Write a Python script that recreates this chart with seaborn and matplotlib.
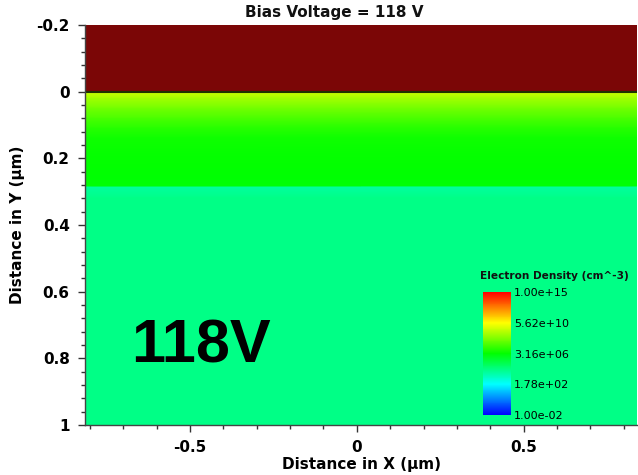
import numpy as np
import matplotlib
matplotlib.use("Agg")
import matplotlib.pyplot as plt
from matplotlib.colors import LinearSegmentedColormap, Normalize
from matplotlib.ticker import MultipleLocator, FixedLocator
import seaborn as sns

# ---- data ----
x_range_um = [-0.815, 0.84]
oxide_y_um = [-0.2, 0.0]                      # top material (no density shown)
depth_um = [0.00, 0.02, 0.05, 0.08, 0.11, 0.14, 0.18, 0.22, 0.26, 0.284, 0.287, 0.32, 1.00]
log10_density = [9.9, 9.2, 8.4, 7.7, 7.1, 6.7, 6.6, 6.5, 6.45, 6.4, 3.9, 4.25, 4.25]
cbar_log_ticks = [-2.0, 2.25, 6.5, 10.75, 15.0]
cbar_labels = ["1.00e-02", "1.78e+02", "3.16e+06", "5.62e+10", "1.00e+15"]
x_ticks = [-0.5, 0, 0.5]
y_ticks = [-0.2, 0, 0.2, 0.4, 0.6, 0.8, 1]
y_tick_labels = ["-0.2", "0", "0.2", "0.4", "0.6", "0.8", "1"]
bias_label = "118V"
title = "Bias Voltage = 118 V"

sns.set_theme(style="ticks")
plt.rcParams["font.family"] = ["DejaVu Sans"]
plt.rcParams["text.color"] = "black"
plt.rcParams["xtick.labelcolor"] = "black"
plt.rcParams["ytick.labelcolor"] = "black"
plt.rcParams["axes.labelcolor"] = "black"

cmap = LinearSegmentedColormap.from_list(
    "dens", ["#0000ff", "#00ffff", "#00ff00", "#ffff00", "#ff0000"])
norm = Normalize(cbar_log_ticks[0], cbar_log_ticks[-1])

fig = plt.figure(figsize=(6.38, 4.75), dpi=100)
ax = fig.add_axes([85/638, 1-425/475, 552/638, 400/475])

X, Y = np.meshgrid(np.array(x_range_um), np.array(depth_um))
Z = np.tile(np.array(log10_density)[:, None], (1, 2))
mesh = ax.pcolormesh(X, Y, Z, cmap=cmap, norm=norm, shading="gouraud")
ax.fill_between(x_range_um, oxide_y_um[0], oxide_y_um[1], color="#7b0606", lw=0)
ax.axhline(oxide_y_um[1], color="#1f3300", lw=1.5)

ax.set_xlim(x_range_um)
ax.set_ylim(1.0, -0.2)
ax.xaxis.set_major_locator(FixedLocator(x_ticks))
ax.xaxis.set_minor_locator(MultipleLocator(0.1))
ax.set_xticklabels(["-0.5", "0", "0.5"])
ax.yaxis.set_major_locator(FixedLocator(y_ticks))
ax.set_yticklabels(y_tick_labels)
ax.yaxis.set_minor_locator(MultipleLocator(0.04))
ax.tick_params(axis="both", which="major", length=5, width=1, color="#333333",
               labelsize=11, pad=6, direction="out")
ax.tick_params(axis="both", which="minor", length=3, width=1, color="#333333",
               direction="out")
for lab in ax.get_xticklabels() + ax.get_yticklabels():
    lab.set_fontweight("bold")
for s in ["top", "right"]:
    ax.spines[s].set_visible(False)
for s in ["left", "bottom"]:
    ax.spines[s].set_color("#444444")
    ax.spines[s].set_linewidth(1)
ax.set_xlabel("Distance in X (µm)", fontsize=11, fontweight="bold", labelpad=1)
ax.set_ylabel("Distance in Y (µm)", fontsize=11, fontweight="bold", labelpad=8)

ax.text(0.21, 0.195, bias_label, transform=ax.transAxes, ha="center", va="center",
        fontsize=44, fontweight="bold", family=["Liberation Sans"], color="black")

fig.text(334/638, 1-13/475, title, ha="center", va="center", fontsize=11,
         fontweight="bold", color="#111111")

# colorbar
cax = fig.add_axes([483/638, 1-415/475, 28/638, 123/475])
cb = fig.colorbar(mesh, cax=cax)
cb.outline.set_visible(False)
cb.set_ticks(cbar_log_ticks)
cb.set_ticklabels(cbar_labels)
cax.tick_params(length=0, labelsize=8, pad=2, labelcolor="black")
fig.text(480/638, 1-276/475, "Electron Density (cm^-3)", ha="left", va="center",
         fontsize=7.6, fontweight="bold", color="#111111")

fig.savefig("out.png", dpi=100)
